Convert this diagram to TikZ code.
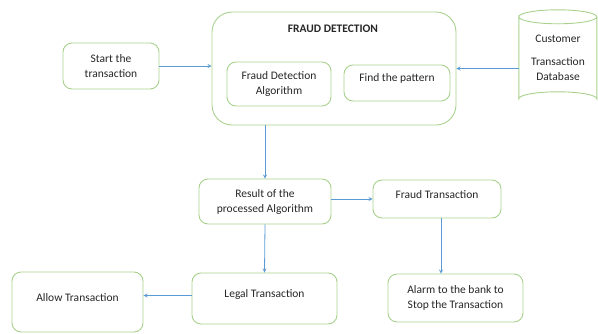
\documentclass[tikz,border=0pt]{standalone}
\usepackage{fontspec}
\setmainfont{Carlito}
\definecolor{boxgreen}{RGB}{169,209,142}
\definecolor{arrowblue}{RGB}{91,155,213}

\begin{document}
\begin{tikzpicture}[x=1pt, y=-1pt, >=stealth,
		box/.style={draw=boxgreen, line width=0.9pt, rounded corners=9pt, align=center, inner sep=0pt,
			font=\fontsize{11.5}{15}\selectfont, text=black!85},
		uptext/.style={label={[font=\fontsize{11.5}{15}\selectfont, text=black!85, yshift=4.5pt]center:#1}},
		arr/.style={->, draw=arrowblue, line width=0.8pt}]
		\useasboundingbox (0,0) rectangle (598,333);
		% top row
		\node[box, minimum width=96pt, minimum height=46pt] (start) at (111,66) {Start the\\transaction};
		\node[box, rounded corners=20pt, minimum width=244pt, minimum height=113pt] (fd) at (334,68.5) {};
		\node[font=\fontsize{11.5}{14}\selectfont\bfseries, text=black!85] (title) at (333,29) {FRAUD DETECTION};
		\node[box, minimum width=104pt, minimum height=44pt] (algo) at (279,84) {Fraud Detection\\Algorithm};
		\node[box, minimum width=106pt, minimum height=36pt, uptext=Find the pattern] (pattern) at (397,83) {};
		% database cylinder
		\node[minimum width=78pt, minimum height=96pt, align=center, inner sep=0pt,
			font=\fontsize{11.5}{15}\selectfont, text=black!85] (db) at (558,58) {Customer\\[8pt]Transaction\\Database};
		\draw[boxgreen, line width=0.9pt] (db.north west) ++(0,7) coordinate (dbtop)
			arc[start angle=180, end angle=-180, x radius=39pt, y radius=7pt]
			-- ++(0,82) arc[start angle=180, end angle=360, x radius=39pt, y radius=-7pt] -- ++(0,-82);
		% lower part
		\node[box, minimum width=132pt, minimum height=45pt] (res) at (265,201.5) {Result of the\\processed Algorithm};
		\node[box, minimum width=128pt, minimum height=38pt, uptext=Fraud Transaction] (fraud) at (437,199) {};
		\node[box, minimum width=135pt, minimum height=48pt] (alarm) at (455.5,298) {Alarm to the bank to\\Stop the Transaction};
		\node[box, minimum width=145pt, minimum height=51pt, uptext=Legal Transaction] (legal) at (264.5,298.5) {};
		\node[box, minimum width=131pt, minimum height=60pt, uptext=Allow Transaction] (allow) at (77.5,302) {};
		% arrows
		\draw[arr] (start.east) -- (start.east -| fd.west);
		\draw[arr] (db.west |- fd.east) -- (fd.east);
		\draw[arr] (fd.south -| res.north) -- (res.north);
		\draw[arr] (res.east |- fraud.west) -- (fraud.west);
		\draw[arr] (fraud.south -| 441,0) -- (alarm.north -| 441,0);
		\draw[arr] (res.south) -- (legal.north);
		\draw[arr] (legal.west -| legal.west) ++(0,-3) coordinate (lw) -- (lw -| allow.east);
\end{tikzpicture}
\end{document}
